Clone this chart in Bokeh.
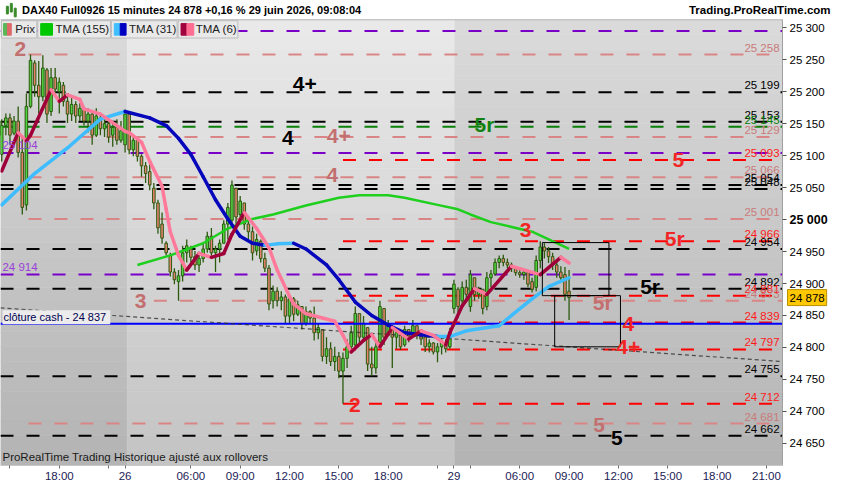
import numpy as np
from bokeh.plotting import figure
from bokeh.models import Range1d, FixedTicker, Label, BoxAnnotation, ColumnDataSource
from bokeh.core.properties import value
from bokeh.embed import file_html
from bokeh.resources import INLINE

FONT = "Liberation Sans"

# ---------------- data ----------------
bar = list(range(140))
open_ = [25132, 25102, 25147, 25159, 25135, 25154, 25105, 25023, 25177, 25245,
         25210, 25192, 25234, 25169, 25222, 25200, 25210, 25185, 25165, 25180,
         25162, 25174, 25154, 25165, 25132, 25159, 25142, 25150, 25132, 25144,
         25124, 25117, 25165, 25109, 25124, 25099, 25084, 25075, 25049, 25026,
         24993, 24963, 24944, 24918, 24903, 24912, 24948, 24954, 24942, 24929,
         24939, 24954, 24974, 24948, 24954, 24963, 24993, 24999, 25049, 25008,
         25026, 24993, 24981, 24951, 24966, 24939, 24924, 24873, 24888, 24873,
         24879, 24849, 24876, 24852, 24864, 24838, 24856, 24846, 24823, 24828,
         24786, 24798, 24778, 24786, 24763, 24783, 24801, 24804, 24853, 24816,
         24831, 24774, 24768, 24808, 24861, 24819, 24831, 24816, 24819, 24804,
         24828, 24819, 24834, 24823, 24816, 24801, 24807, 24793, 24801, 24808,
         24801, 24861, 24891, 24873, 24894, 24864, 24909, 24883, 24891, 24864,
         24909, 24915, 24933, 24939, 24933, 24929, 24924, 24917, 24914, 24917,
         24903, 24894, 24936, 24957, 24951, 24942, 24929, 24918, 24914, 24888]
high = [25162, 25157, 25166, 25166, 25162, 25177, 25132, 25197, 25258, 25249,
        25248, 25257, 25237, 25237, 25237, 25222, 25215, 25197, 25192, 25185,
        25182, 25177, 25174, 25169, 25174, 25165, 25159, 25154, 25150, 25157,
        25154, 25172, 25165, 25132, 25127, 25102, 25090, 25087, 25057, 25031,
        25011, 24966, 24948, 24924, 24921, 24959, 24969, 24959, 24951, 24948,
        24963, 24981, 24987, 24959, 24969, 24999, 25026, 25061, 25049, 25037,
        25026, 24999, 24989, 24978, 24969, 24948, 24929, 24897, 24894, 24888,
        24883, 24883, 24879, 24873, 24864, 24864, 24858, 24864, 24838, 24828,
        24816, 24808, 24801, 24793, 24792, 24813, 24834, 24864, 24853, 24849,
        24831, 24801, 24808, 24873, 24861, 24843, 24835, 24828, 24819, 24834,
        24828, 24843, 24834, 24828, 24822, 24813, 24808, 24807, 24816, 24813,
        24831, 24906, 24894, 24903, 24906, 24921, 24909, 24895, 24891, 24918,
        24921, 24939, 24944, 24945, 24939, 24933, 24927, 24921, 24921, 24917,
        24909, 24944, 24966, 24963, 24957, 24948, 24936, 24927, 24926, 24921]
low = [25117, 25091, 25132, 25117, 25132, 25097, 25008, 25014, 25174, 25192,
       25166, 25185, 25151, 25162, 25192, 25166, 25177, 25151, 25154, 25151,
       25154, 25147, 25136, 25117, 25129, 25132, 25129, 25120, 25114, 25117,
       25120, 25105, 25102, 25099, 25091, 25067, 25057, 25046, 25016, 24978,
       24962, 24944, 24911, 24899, 24873, 24903, 24933, 24933, 24921, 24918,
       24933, 24948, 24939, 24918, 24933, 24963, 24969, 24992, 24992, 24999,
       24984, 24969, 24936, 24944, 24933, 24918, 24858, 24861, 24864, 24858,
       24838, 24838, 24841, 24849, 24828, 24834, 24838, 24811, 24813, 24778,
       24774, 24771, 24763, 24752, 24712, 24768, 24793, 24798, 24804, 24813,
       24763, 24755, 24759, 24808, 24804, 24819, 24768, 24798, 24796, 24801,
       24808, 24816, 24813, 24804, 24793, 24792, 24789, 24777, 24789, 24792,
       24798, 24853, 24846, 24867, 24870, 24856, 24873, 24876, 24852, 24858,
       24894, 24912, 24924, 24927, 24924, 24918, 24912, 24909, 24906, 24894,
       24886, 24888, 24924, 24939, 24932, 24921, 24909, 24903, 24873, 24843]
close = [25154, 25147, 25159, 25132, 25154, 25105, 25019, 25177, 25249, 25210,
         25192, 25237, 25165, 25222, 25204, 25215, 25185, 25165, 25180, 25162,
         25174, 25154, 25165, 25132, 25162, 25142, 25150, 25129, 25144, 25124,
         25139, 25165, 25109, 25124, 25099, 25084, 25072, 25054, 25026, 24987,
         24971, 24948, 24918, 24906, 24912, 24948, 24959, 24941, 24929, 24939,
         24954, 24974, 24948, 24954, 24963, 24993, 25019, 25054, 25004, 25029,
         24993, 24981, 24948, 24969, 24939, 24924, 24868, 24888, 24873, 24879,
         24849, 24876, 24852, 24867, 24837, 24856, 24846, 24823, 24831, 24786,
         24798, 24778, 24786, 24763, 24783, 24801, 24823, 24853, 24816, 24838,
         24774, 24768, 24801, 24864, 24816, 24834, 24816, 24823, 24801, 24828,
         24816, 24834, 24823, 24813, 24801, 24807, 24793, 24801, 24808, 24798,
         24823, 24899, 24864, 24894, 24883, 24914, 24883, 24891, 24861, 24909,
         24915, 24933, 24939, 24933, 24929, 24924, 24917, 24914, 24918, 24899,
         24891, 24936, 24957, 24951, 24942, 24929, 24918, 24909, 24883, 24878]

tma155_bar = [34, 42, 50, 56, 62, 67, 75, 83, 88, 95, 99, 107, 112, 115, 120, 130, 139]
tma155_val = [24929, 24944, 24963, 24986, 25001, 25008, 25022, 25034, 25038, 25038,
              25034, 25023, 25016, 25008, 24996, 24981, 24954]
tma31_bar = [1, 9, 17, 25, 31, 37, 41, 44, 47, 50, 53, 56, 59, 62, 65, 68, 72, 75, 80,
             83, 87, 91, 95, 99, 103, 107, 110, 114, 122, 125, 130, 134, 139]
tma31_val = [25023, 25072, 25112, 25157, 25169, 25159, 25147, 25127, 25102, 25067,
             25031, 25001, 24974, 24963, 24960, 24962, 24963, 24954, 24929, 24906,
             24871, 24850, 24835, 24823, 24820, 24817, 24817, 24826, 24834, 24850,
             24876, 24895, 24909]
tma6_bar = [1, 5, 7, 8, 13, 15, 17, 20, 21, 25, 29, 31, 32, 35, 37, 40, 41, 42, 44, 46,
            49, 52, 55, 57, 60, 63, 66, 68, 71, 72, 75, 79, 82, 84, 86, 89, 91, 93, 96,
            100, 103, 106, 109, 110, 113, 116, 119, 125, 132, 137, 139]
tma6_val = [25076, 25136, 25123, 25132, 25203, 25185, 25195, 25188, 25173, 25165,
            25147, 25138, 25136, 25121, 25091, 25052, 25016, 24981, 24944, 24921,
            24947, 24941, 24947, 24977, 25011, 24986, 24956, 24921, 24880, 24868,
            24853, 24846, 24841, 24819, 24793, 24811, 24820, 24801, 24831, 24813,
            24826, 24819, 24804, 24823, 24865, 24892, 24883, 24927, 24914, 24941, 24932]

# horizontal levels: price, family, first bar (None = whole width)
level_price = [25295, 25258, 25199, 25153, 25145, 25129, 25104, 25093, 25066, 25054,
               25048, 25001, 24966, 24954, 24914, 24892, 24881, 24873, 24839, 24797,
               24755, 24712, 24681, 24662]
level_kind = ["purple", "rosy", "black", "black", "green", "rosy", "purple", "red", "rosy", "black",
              "black", "rosy", "red", "black", "purple", "black", "red", "rosy", "red", "red",
              "black", "red", "rosy", "black"]
level_from = [None, 7.5, None, None, None, 7.5, None, 84, 7.5, None,
              None, 7.5, 84, None, None, None, 84, 38, 84, 84,
              None, 84, 7.5, None]

cash_close = 24837
trend_start_price = 24862
trend_end_price = 24778

zone_left = [132.5, 135.5]
zone_right = [148.7, 151.5]
zone_top = [24964, 24881]
zone_bottom = [24881, 24801]

wave_text = ["2", "4+", "4", "4+", "4", "5r", "5", "3", "5r", "5r", "3", "5r", "4", "4+", "2", "5", "5"]
wave_bar = [5.5, 74.7, 70.6, 83, 81.4, 118.4, 165.6, 128.4, 164.7, 158.7, 34.8, 147.2, 153.4, 153.4, 86.9, 146.3, 150.6]
wave_price = [25267, 25212, 25127, 25130, 25070, 25148, 25093, 24983, 24971, 24895, 24873, 24871, 24837, 24801, 24710, 24679, 24658]
wave_kind = ["rosy", "black", "black", "rosy", "rosy", "green", "red", "red", "red", "black",
             "rosy", "rosy", "red", "red", "red", "rosy", "black"]

price_ticks = [24650, 24700, 24750, 24800, 24850, 24900, 24950, 25000, 25050, 25100,
               25150, 25200, 25250, 25300]
time_ticks = [15, 31, 47, 59, 71, 83, 95, 111, 127, 139, 151, 163, 175, 187]
time_labels = ["18:00", "26", "06:00", "09:00", "12:00", "15:00", "18:00", "29",
               "06:00", "09:00", "12:00", "15:00", "18:00", "21:00"]
minor_time_ticks = [3, 27, 107, 115]
day_breaks = [31.5, 111.2]

last_price = 24878

# ---------------- geometry (reference pixel <-> data) ----------------
PXB = 4.19                  # px per bar in the reference
X0 = 0.7                    # bar index at left edge


def rx(px):
    return X0 + px / PXB


def ry(py):
    return 25342.6 - 1.5056 * py


CX0, CX1 = rx(0), rx(797)       # chart area (bars)
CY0, CY1 = ry(483), ry(20)      # chart area (prices)

line_col = {"black": "#000000", "rosy": "#d98585", "red": "#ff0000", "green": "#0a800a", "purple": "#7a00c8"}
text_col = {"black": "#000000", "rosy": "#c97b7b", "red": "#ff1a1a", "green": "#0a800a", "purple": "#9a40d8"}
big_col = {"black": "#000000", "rosy": "#c46f6f", "red": "#f22424", "green": "#128212"}


def fmt(v):
    v = int(round(v))
    return f"{v // 1000} {v % 1000:03d}"


p = figure(width=834, height=484, x_range=Range1d(rx(0), rx(850)), y_range=Range1d(CY0, ry(0)),
           y_axis_location="right", output_backend="svg", toolbar_location=None,
           min_border_left=0, min_border_right=0, min_border_top=0, min_border_bottom=17)
p.grid.visible = False
p.border_fill_color = "white"
p.background_fill_color = "white"
p.outline_line_color = None

# background gradient bands per session
edges = [CX0] + day_breaks + [CX1]
N = 30
ys = np.linspace(CY1, CY0, N + 1)
bl, br, bt, bb, bc = [], [], [], [], []
for k in range(len(edges) - 1):
    lightband = (k % 2 == 1)
    top_c = np.array([234, 234, 234]) if lightband else np.array([219, 219, 219])
    bot_c = np.array([196, 196, 196]) if lightband else np.array([180, 180, 180])
    for j in range(N):
        t = (j + 0.5) / N
        c = (top_c * (1 - t) + bot_c * t).astype(int)
        bl.append(edges[k]); br.append(edges[k + 1])
        bt.append(ys[j]); bb.append(ys[j + 1])
        bc.append("#%02x%02x%02x" % tuple(c))
p.quad(left=bl, right=br, top=bt, bottom=bb, fill_color=bc, line_color=bc, line_width=0.5)

# level lines
lx0 = [CX0 if s is None else s for s in level_from]
p.segment(x0=lx0, y0=level_price, x1=[CX1] * len(level_price), y1=level_price,
          line_color=[line_col[k] for k in level_kind], line_width=2, line_dash="13 13")

# candles
o = np.array(open_); c = np.array(close)
up = c >= o
cs = ColumnDataSource(dict(x=bar, h=high, l=low, top=np.maximum(o, c), bot=np.minimum(o, c),
                           fill=np.where(up, "#4fd33f", "#e8826e")))
p.segment(x0="x", y0="l", x1="x", y1="h", source=cs, line_color="#2c5a0f", line_width=1.3)
p.vbar(x="x", top="top", bottom="bot", width=0.62, source=cs, fill_color="fill",
       line_color="#2c5a0f", line_width=1)

# cash close and trend line
p.segment(x0=[CX0], y0=[cash_close], x1=[CX1], y1=[cash_close], line_color="#0000ff", line_width=2)
p.segment(x0=[CX0], y0=[trend_start_price], x1=[CX1], y1=[trend_end_price],
          line_color="#303030", line_width=1.2, line_dash="4 3", line_alpha=0.8)


def two_tone(xs, vs, rise, fall, width):
    x0, y0, x1, y1, col = [], [], [], [], []
    for a in range(len(xs) - 1):
        x0.append(xs[a]); y0.append(vs[a]); x1.append(xs[a + 1]); y1.append(vs[a + 1])
        col.append(rise if vs[a + 1] >= vs[a] else fall)
    p.segment(x0=x0, y0=y0, x1=x1, y1=y1, line_color=col, line_width=width, line_cap="round")


p.line(tma155_bar, tma155_val, line_color="#1ecf1e", line_width=2.5)
two_tone(tma31_bar, tma31_val, "#3dbdff", "#0606bb", 3.5)
two_tone(tma6_bar, tma6_val, "#a0003a", "#ff7a9a", 3.5)

# zones
p.quad(left=zone_left, right=zone_right, top=zone_top, bottom=zone_bottom,
       fill_alpha=0, line_color="#000000", line_width=1)

# white margins (header, price scale)
p.quad(left=[rx(0), CX1], right=[rx(850), rx(850)],
       top=[ry(0), ry(0)], bottom=[CY1, CY0],
       fill_color="white", line_color="white", line_width=0)
p.segment(x0=[CX0], y0=[CY1], x1=[CX1], y1=[CY1], line_color="#b4b4b4", line_width=1)

# level price labels
rlab = [i for i, k in enumerate(level_kind) if k != "purple"]
p.text(x=[rx(794)] * len(rlab), y=[level_price[i] for i in rlab], text=[fmt(level_price[i]) for i in rlab],
       text_color=[text_col[level_kind[i]] for i in rlab], text_align="right", text_baseline="bottom",
       y_offset=-1, text_font=value(FONT), text_font_size="11.5px")
llab = [i for i, k in enumerate(level_kind) if k == "purple" and level_price[i] < 25250]
p.text(x=[rx(2)] * len(llab), y=[level_price[i] for i in llab], text=[fmt(level_price[i]) for i in llab],
       text_color=text_col["purple"], text_align="left", text_baseline="bottom",
       y_offset=-2, text_font=value(FONT), text_font_size="11.5px")

# wave labels
p.text(x=wave_bar, y=wave_price, text=wave_text, text_color=[big_col[k] for k in wave_kind],
       text_align="center", text_baseline="middle", text_font=value(FONT),
       text_font_size="21px", text_font_style="bold")

# cash label
p.add_layout(Label(x=rx(2), y=ry(329), text="clôture cash -  " + fmt(cash_close),
                   text_baseline="middle", text_font=FONT, text_font_size="11px",
                   text_color="#000050", background_fill_color="#ececec", background_fill_alpha=1,
                   padding=1))


# legend row
def box(l, r, t, b, color, lc=None):
    p.add_layout(BoxAnnotation(left=rx(l), right=rx(r), top=ry(t), bottom=ry(b), fill_color=color,
                               fill_alpha=1, line_color=lc if lc else color, line_width=1, line_alpha=1))


for (l, r) in [(1, 37), (38, 112), (113, 180), (181, 242)]:
    box(l, r, 21, 39, "#e9e9e9", "#bcbcbc")
box(3, 7, 24, 36, "#58b858"); box(7, 11, 24, 36, "#e06868")
box(41, 53, 24, 36, "#00c800")
box(116, 122, 24, 36, "#40bfff"); box(122, 128, 24, 36, "#0000c0")
box(184, 190, 24, 36, "#a0003c"); box(190, 197, 24, 36, "#ff6d92")
for tx, px in [("Prix", 15), ("TMA (155)", 56), ("TMA (31)", 131), ("TMA (6)", 199)]:
    p.add_layout(Label(x=rx(px), y=ry(30), text=tx, text_baseline="middle", text_font=FONT,
                       text_font_size="11.5px", text_color="#202020"))

# header icon (small candles) and header texts
box(6, 8, 6, 14, "#3a8a2a"); box(10, 12, 3, 12, "#3a8a2a"); box(14, 16, 8, 17, "#3a8a2a")
p.add_layout(Label(x=rx(22), y=ry(10), text="DAX40 Full0926 15 minutes 24 878 +0,16 % 29 juin 2026, 09:08:04",
                   text_baseline="middle", text_font=FONT, text_font_size="11px",
                   text_font_style="bold", text_color="#000000"))
p.add_layout(Label(x=rx(846), y=ry(10), text="Trading.ProRealTime.com", text_align="right",
                   text_baseline="middle", text_font=FONT, text_font_size="11.5px",
                   text_font_style="bold", text_color="#000000"))
p.add_layout(Label(x=rx(2), y=ry(474), text="ProRealTime Trading  Historique ajusté aux rollovers",
                   text_baseline="middle", text_font=FONT, text_font_size="11.5px", text_color="#1a1a1a"))

# axes
ya = p.yaxis[0]
ya.fixed_location = CX1
ya.bounds = (CY0, CY1)
ya.ticker = FixedTicker(ticks=price_ticks)
ya.major_label_overrides = {t: ("" if t == 25000 else fmt(t)) for t in price_ticks}
ya.major_tick_out = 4; ya.major_tick_in = 0; ya.minor_tick_out = 0; ya.minor_tick_in = 0
ya.major_label_standoff = 3
ya.axis_line_color = "#a0a0a0"; ya.major_tick_line_color = "#505050"
ya.major_label_text_font = FONT; ya.major_label_text_font_size = "11.5px"
ya.major_label_text_color = "#000000"

xa = p.xaxis[0]
xa.bounds = (CX0, CX1)
xa.ticker = FixedTicker(ticks=time_ticks, minor_ticks=minor_time_ticks)
xa.major_label_overrides = {t: lab for t, lab in zip(time_ticks, time_labels)}
xa.major_tick_out = 3; xa.major_tick_in = 0; xa.minor_tick_out = 3; xa.minor_tick_in = 0
xa.major_label_standoff = 1
xa.axis_line_color = "#c8c8c8"; xa.major_tick_line_color = "#707070"; xa.minor_tick_line_color = "#707070"
xa.major_label_text_font = FONT; xa.major_label_text_font_size = "11.5px"
xa.major_label_text_color = "#1c1c55"

p.add_layout(Label(x=CX1, y=25000, x_offset=7, text=fmt(25000), text_align="left", text_baseline="middle",
                   text_font=FONT, text_font_size="12.5px", text_font_style="bold", text_color="#000000"))
p.add_layout(Label(x=CX1, y=last_price, x_offset=5, text=fmt(last_price), text_align="left",
                   text_baseline="middle", text_font=FONT, text_font_size="11.5px", text_color="#000000",
                   background_fill_color="#ffc800", background_fill_alpha=1, border_line_color="#b89000",
                   padding=2))

open("out.html", "w").write(file_html(p, INLINE))
